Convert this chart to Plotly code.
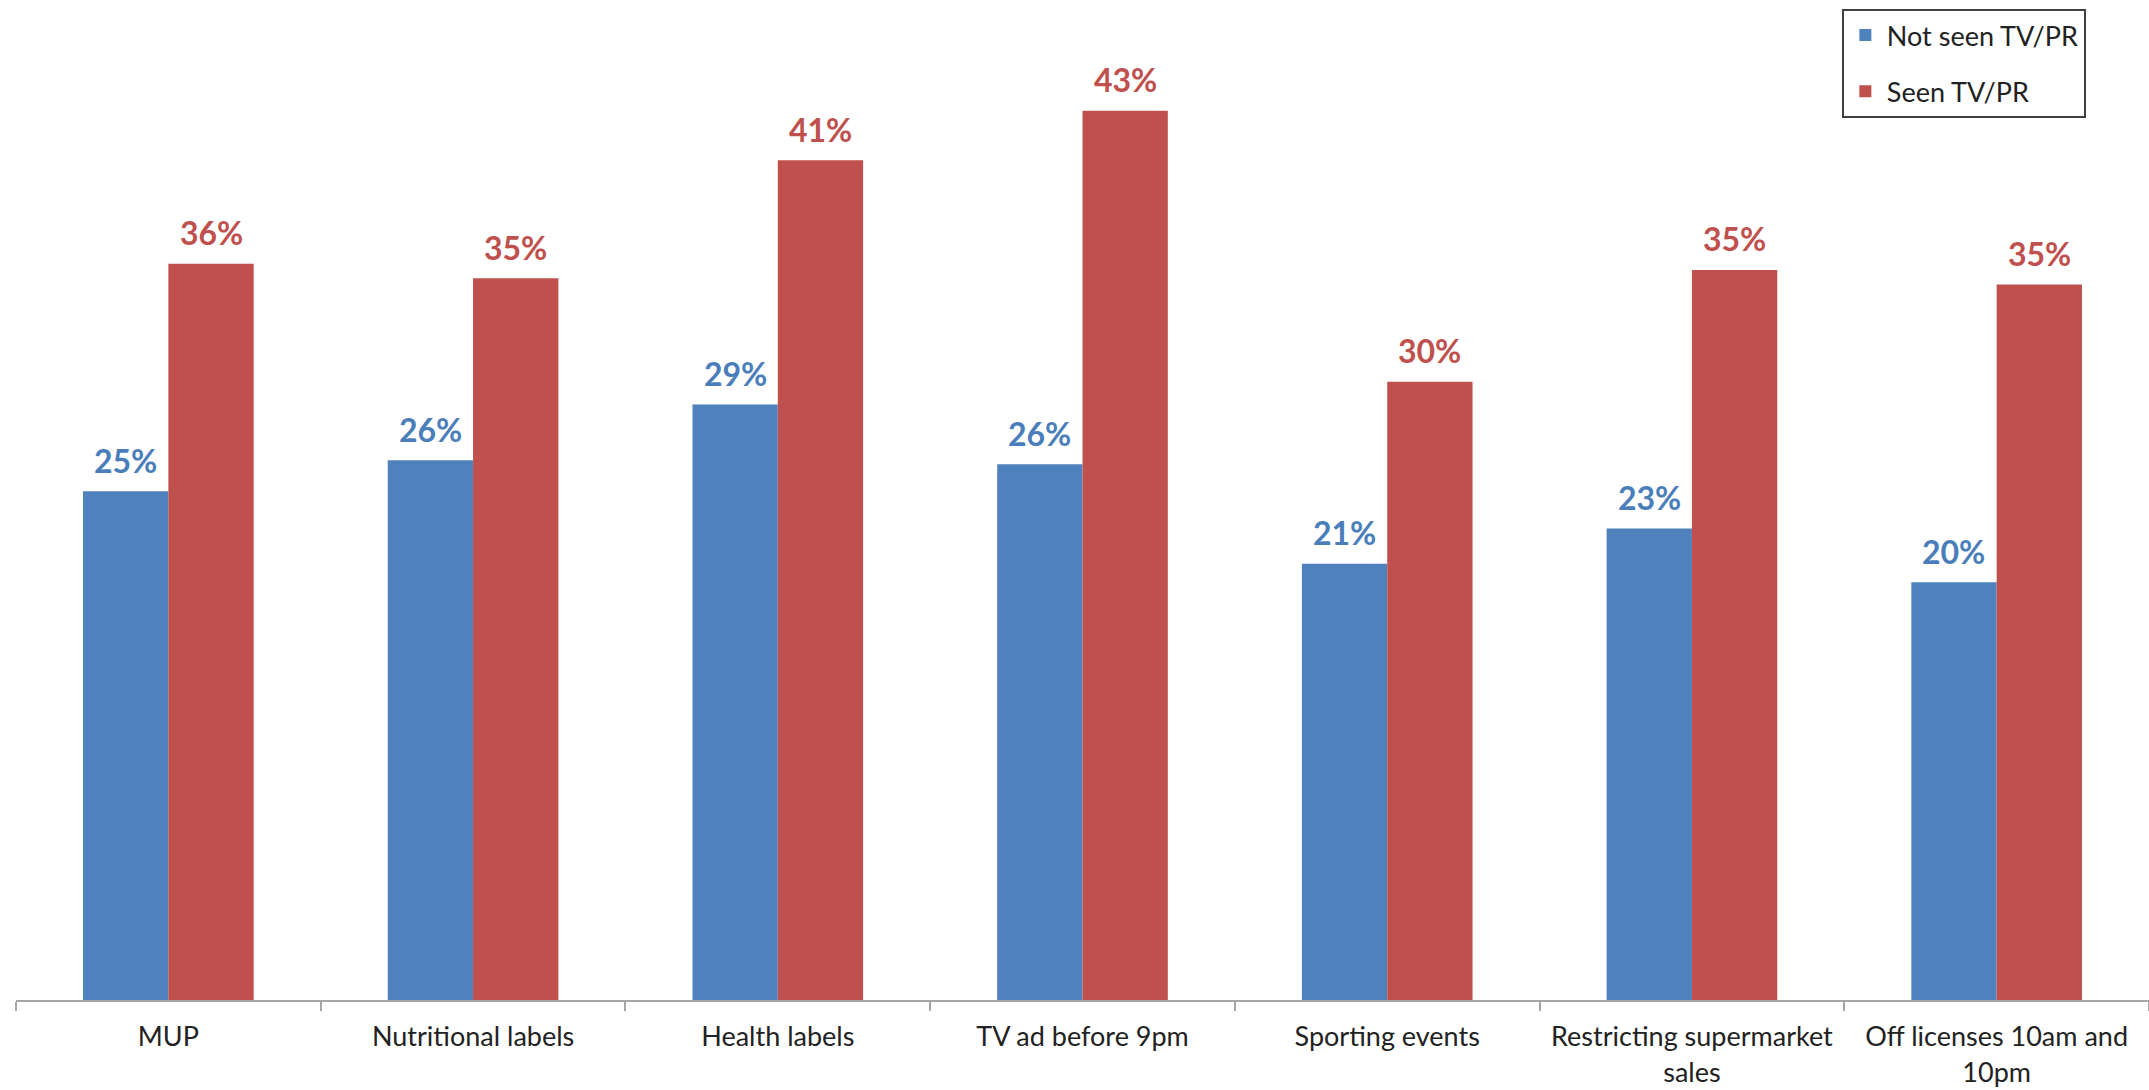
import plotly.graph_objects as go

categories = ["MUP", "Nutritional labels", "Health labels", "TV ad before 9pm",
              "Sporting events", "Restricting supermarket<br>sales", "Off licenses 10am and<br>10pm"]
not_seen = [24.6, 26.1, 28.8, 25.9, 21.1, 22.8, 20.2]
seen = [35.6, 34.9, 40.6, 43.0, 29.9, 35.3, 34.6]

BLUE = "#4F81BD"
RED = "#C0504D"
BLUE_TXT = "#4A7EBB"
FONT = "Lato"

W, H = 2149, 1090
ML, MR, MT, MB = 16, 0, 10, 90
BARGAP = 0.44

fig = go.Figure()
fig.add_trace(go.Bar(
    x=categories, y=not_seen, name="Not seen TV/PR", legendgroup="a",
    marker=dict(color=BLUE, line=dict(width=0)),
))
fig.add_trace(go.Bar(
    x=categories, y=seen, name="Seen TV/PR", legendgroup="b",
    marker=dict(color=RED, line=dict(width=0)),
))

# value labels above bars, offset by half a bar width
cat_w = (W - ML - MR) / len(categories)
half_bar = cat_w * (1 - BARGAP) / 4
for cat, v in zip(categories, not_seen):
    fig.add_annotation(x=cat, y=v, xref="x", yref="y", text=f"{v:.0f}%",
                       showarrow=False, xshift=-half_bar, yshift=31, yanchor="middle",
                       font=dict(family=FONT, size=32, color=BLUE_TXT, weight="bold"))
for cat, v in zip(categories, seen):
    fig.add_annotation(x=cat, y=v, xref="x", yref="y", text=f"{v:.0f}%",
                       showarrow=False, xshift=half_bar, yshift=31, yanchor="middle",
                       font=dict(family=FONT, size=32, color=RED, weight="bold"))

fig.update_layout(
    width=W, height=H,
    margin=dict(l=ML, r=MR, t=MT, b=MB),
    paper_bgcolor="white", plot_bgcolor="white",
    barmode="group", bargap=BARGAP, bargroupgap=0,
    font=dict(family=FONT, size=27, color="#222222"),
    showlegend=True,
    legend=dict(
        x=0.856, y=1.001, xanchor="left", yanchor="top",
        bordercolor="#404040", borderwidth=2, bgcolor="white",
        font=dict(family=FONT, size=27, color="#222222"),
        tracegroupgap=18, itemwidth=33,
    ),
)
fig.update_xaxes(
    showline=True, linecolor="#A6A6A6", linewidth=2,
    ticks="outside", tickson="boundaries", ticklen=9, tickcolor="#A6A6A6", tickwidth=2,
    tickfont=dict(family=FONT, size=27, color="#222222"),
    ticklabelstandoff=12,
    showgrid=False,
)
fig.update_yaxes(
    range=[0, 47.87], visible=False, showgrid=False, zeroline=False,
)

fig.write_html("out.html")
